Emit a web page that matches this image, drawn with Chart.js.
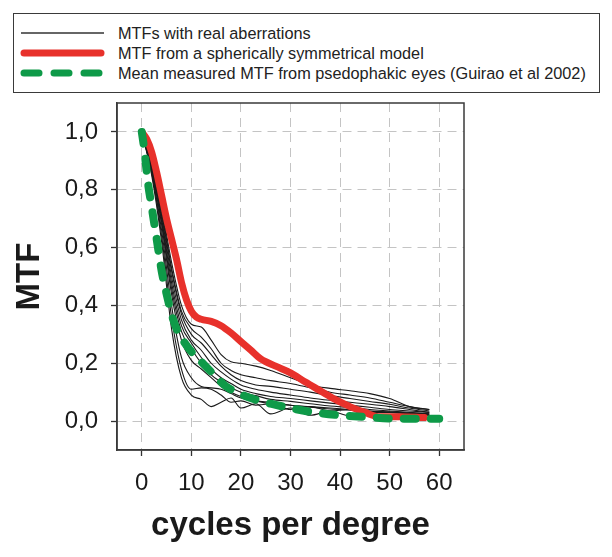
<!DOCTYPE html>
<html>
<head>
<meta charset="utf-8">
<script src="https://cdn.jsdelivr.net/npm/chart.js@4.4.0/dist/chart.umd.min.js"></script>
<style>
body { margin: 0; background: #fff; }
#wrap { position: relative; width: 612px; height: 557px; }
#legend {
    position: absolute; left: 13px; top: 13px; width: 585px; height: 78px;
    border: 1.5px solid #3a3a3a; background: #fff;
    font-family: "Liberation Sans", Arial, sans-serif; font-size: 16.3px; color: #222;
}
.row { position: absolute; left: 0; width: 100%; height: 20px; line-height: 20px; }
.row svg { position: absolute; left: 0; top: 0; }
.row span { position: absolute; left: 104px; white-space: nowrap; }
</style>
</head>
<body>
<div id="wrap">
    <canvas id="mtfChart" width="612" height="557"></canvas>
    <div id="legend"></div>
</div>
<script>
"use strict";

// x positions (cycles per degree) used for the measured curves
var realX = [0, 2, 4, 6, 8, 10, 12, 14, 16, 18, 20, 23, 26, 30, 34, 38, 42, 46, 50, 54, 58];

// MTFs with real aberrations
var realMtfs = [
    [1, 0.89, 0.74, 0.55, 0.40, 0.335, 0.325, 0.28, 0.23, 0.205, 0.20, 0.19, 0.175, 0.15, 0.125, 0.113, 0.105, 0.095, 0.078, 0.05, 0.04],
    [1, 0.89, 0.73, 0.53, 0.38, 0.32, 0.29, 0.25, 0.20, 0.175, 0.16, 0.15, 0.14, 0.13, 0.115, 0.10, 0.09, 0.08, 0.065, 0.05, 0.04],
    [1, 0.88, 0.72, 0.52, 0.37, 0.30, 0.27, 0.23, 0.19, 0.16, 0.14, 0.125, 0.12, 0.11, 0.10, 0.088, 0.078, 0.068, 0.058, 0.045, 0.035],
    [1, 0.88, 0.71, 0.50, 0.35, 0.28, 0.245, 0.20, 0.17, 0.145, 0.125, 0.11, 0.10, 0.09, 0.08, 0.072, 0.065, 0.058, 0.05, 0.04, 0.03],
    [1, 0.88, 0.70, 0.48, 0.33, 0.27, 0.22, 0.18, 0.15, 0.13, 0.11, 0.095, 0.085, 0.078, 0.07, 0.062, 0.055, 0.048, 0.04, 0.035, 0.03],
    [1, 0.87, 0.69, 0.46, 0.31, 0.25, 0.20, 0.16, 0.135, 0.115, 0.10, 0.088, 0.075, 0.068, 0.06, 0.052, 0.047, 0.04, 0.035, 0.03, 0.025],
    [1, 0.87, 0.68, 0.44, 0.28, 0.21, 0.18, 0.15, 0.12, 0.10, 0.085, 0.07, 0.065, 0.055, 0.05, 0.045, 0.04, 0.035, 0.032, 0.028, 0.025],
    [1, 0.86, 0.66, 0.40, 0.22, 0.15, 0.12, 0.115, 0.11, 0.095, 0.08, 0.07, 0.06, 0.055, 0.048, 0.042, 0.038, 0.034, 0.03, 0.026, 0.022],
    [1, 0.86, 0.64, 0.36, 0.18, 0.11, 0.115, 0.11, 0.09, 0.065, 0.07, 0.055, 0.06, 0.04, 0.05, 0.035, 0.04, 0.03, 0.03, 0.025, 0.02],
    [1, 0.85, 0.62, 0.32, 0.15, 0.09, 0.075, 0.05, 0.065, 0.08, 0.045, 0.06, 0.025, 0.045, 0.02, 0.035, 0.018, 0.025, 0.018, 0.02, 0.02]
];

// spherically symmetrical model
var modelX = [0, 1, 2, 3, 4, 5, 6, 7, 8, 9, 10, 11, 12, 14, 16, 18, 20, 22, 24, 27, 30, 33, 36, 39, 42, 45, 48, 52, 57];
var modelY = [1, 0.975, 0.93, 0.86, 0.78, 0.70, 0.63, 0.56, 0.48, 0.42, 0.38, 0.36, 0.352, 0.345, 0.33, 0.305, 0.275, 0.245, 0.215, 0.19, 0.167, 0.135, 0.105, 0.075, 0.05, 0.03, 0.015, 0.015, 0.012];

// mean measured MTF, pseudophakic eyes (Guirao et al 2002)
var meanX = [0, 0.5, 1.2, 2, 3, 4, 5, 6, 7, 8.3, 10, 12.3, 14, 17, 20, 22.4, 26, 30, 34, 40, 45, 52, 60];
var meanY = [1, 0.94, 0.83, 0.74, 0.63, 0.52, 0.44, 0.37, 0.32, 0.28, 0.24, 0.20, 0.17, 0.12, 0.093, 0.077, 0.06, 0.045, 0.032, 0.02, 0.014, 0.008, 0.008];

var xTicks = [0, 10, 20, 30, 40, 50, 60];
var yTicks = [0, 0.2, 0.4, 0.6, 0.8, 1.0];

var legendLabels = [
    "MTFs with real aberrations",
    "MTF from a spherically symmetrical model",
    "Mean measured MTF from psedophakic eyes (Guirao et al 2002)"
];

var fontFamily = '"Liberation Sans", Arial, sans-serif';

function toPoints(xs, ys) {
    return xs.map(function(x, i) { return { x: x, y: ys[i] }; });
}

var datasets = [];
realMtfs.forEach(function(ys, i) {
    datasets.push({
        label: legendLabels[0] + " " + (i + 1),
        data: toPoints(realX, ys),
        borderColor: "#1a1a1a",
        borderWidth: 1.1,
        pointRadius: 0,
        cubicInterpolationMode: "monotone",
        order: 2
    });
});
datasets.push({
    label: legendLabels[1],
    data: toPoints(modelX, modelY),
    borderColor: "#e8312b",
    borderWidth: 7,
    borderCapStyle: "round",
    borderJoinStyle: "round",
    pointRadius: 0,
    cubicInterpolationMode: "monotone",
    order: 1
});
datasets.push({
    label: legendLabels[2],
    data: toPoints(meanX, meanY),
    borderColor: "#0e9a48",
    borderWidth: 8,
    borderDash: [12, 15],
    borderCapStyle: "round",
    pointRadius: 0,
    cubicInterpolationMode: "monotone",
    order: 0
});

/* box round the plot area, all four sides */
var framePlugin = {
    id: "frame",
    beforeDatasetsDraw: function(chart) {
        var ctx = chart.ctx, a = chart.chartArea;
        ctx.save();
        ctx.strokeStyle = "#3a3a3a";
        ctx.lineWidth = 1.5;
        ctx.strokeRect(a.left, a.top, a.right - a.left, a.bottom - a.top);
        ctx.restore();
    }
};

var gridOpts = {
    color: "#c4c4c4",
    lineWidth: 1,
    tickColor: "#333",
    tickLength: 6,
    tickWidth: 1.3,
    tickBorderDash: []
};

new Chart(document.getElementById("mtfChart"), {
    type: "line",
    data: { datasets: datasets },
    options: {
        responsive: false,
        animation: false,
        layout: { padding: { top: 103, right: 148, bottom: 0, left: 0 } },
        scales: {
            x: {
                type: "linear",
                min: -5,
                max: 65,
                afterBuildTicks: function(scale) {
                    scale.ticks = xTicks.map(function(v) { return { value: v }; });
                },
                afterFit: function(scale) { scale.height = 107; },
                ticks: {
                    font: { family: fontFamily, size: 24 },
                    color: "#1a1a1a",
                    padding: 13,
                    maxRotation: 0
                },
                grid: gridOpts,
                border: { color: "#3a3a3a", width: 1.5, dash: [9, 6] },
                title: {
                    display: true,
                    text: "cycles per degree",
                    font: { family: fontFamily, size: 33, weight: "bold" },
                    color: "#1a1a1a",
                    padding: { top: 0, bottom: 11 }
                }
            },
            y: {
                type: "linear",
                min: -0.1,
                max: 1.1,
                afterBuildTicks: function(scale) {
                    scale.ticks = yTicks.map(function(v) { return { value: v }; });
                },
                afterFit: function(scale) { scale.width = 117; },
                ticks: {
                    font: { family: fontFamily, size: 24 },
                    color: "#1a1a1a",
                    padding: 13,
                    callback: function(v) { return v.toFixed(1).replace(".", ","); }
                },
                grid: gridOpts,
                border: { color: "#3a3a3a", width: 1.5, dash: [9, 6] },
                title: {
                    display: true,
                    text: "MTF",
                    font: { family: fontFamily, size: 33, weight: "bold" },
                    color: "#1a1a1a",
                    padding: { top: 10, bottom: 0 }
                }
            }
        },
        plugins: {
            legend: { display: false },
            tooltip: { enabled: false }
        }
    },
    plugins: [framePlugin]
});

// legend box drawn as html above the chart
var legendBox = document.getElementById("legend");
var samples = [
    '<line x1="7" y1="10" x2="90" y2="10" stroke="#333" stroke-width="1.5"/>',
    '<line x1="10" y1="10" x2="87" y2="10" stroke="#e8312b" stroke-width="7" stroke-linecap="round"/>',
    '<line x1="10" y1="10" x2="90" y2="10" stroke="#0e9a48" stroke-width="7" stroke-linecap="round" stroke-dasharray="15 15"/>'
];
legendLabels.forEach(function(text, i) {
    var row = document.createElement("div");
    row.className = "row";
    row.style.top = (9 + i * 20) + "px";
    row.innerHTML = '<svg width="100" height="20">' + samples[i] + '</svg><span>' + text + '</span>';
    legendBox.appendChild(row);
});
</script>
</body>
</html>
